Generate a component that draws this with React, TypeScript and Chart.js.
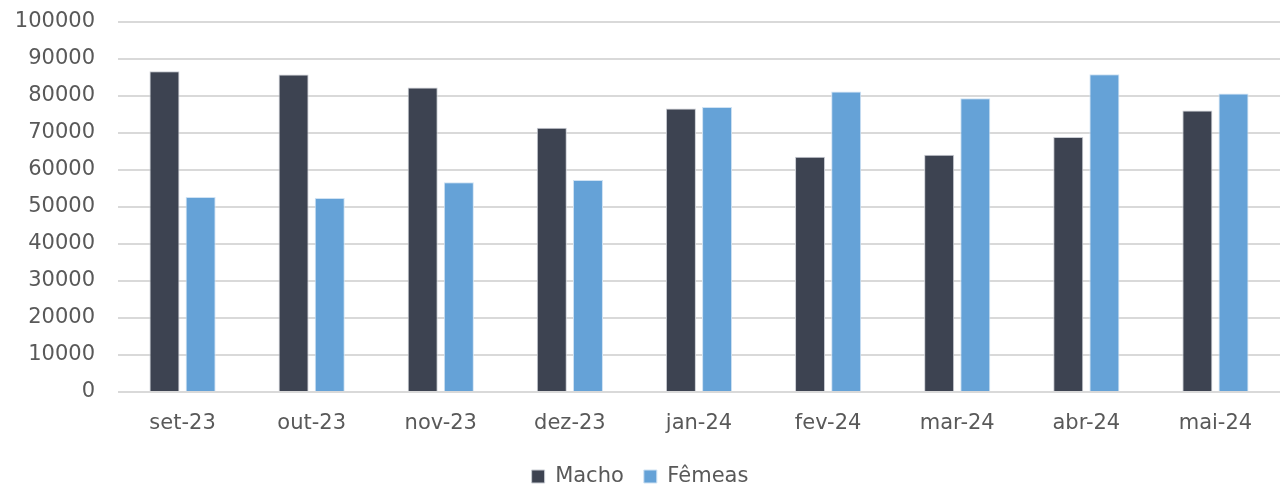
import React, { useEffect, useRef } from "react";
import { Chart, registerables } from "chart.js";

Chart.register(...registerables);

const categories = ["set-23", "out-23", "nov-23", "dez-23", "jan-24", "fev-24", "mar-24", "abr-24", "mai-24"];
const machoValues = [86700, 85800, 82300, 71400, 76600, 63600, 64100, 68900, 76100];
const femeasValues = [52700, 52400, 56700, 57300, 77000, 81200, 79400, 85900, 80700];
const seriesNames = ["Macho", "Fêmeas"];

const FONT = "'DejaVu Sans', 'Open Sans', sans-serif";
const TEXT = "#595959";
const FONT_SIZE = 21;

// Keeps the bottom legend compact so it sits close to the canvas edge.
const legendHeight = {
  id: "legendHeight",
  beforeLayout(chart: any) {
    const legend = chart.legend;
    if (legend && !legend._heightPatched) {
      const fit = legend.fit;
      legend.fit = function () {
        fit.call(this);
        this.height = 42;
      };
      legend._heightPatched = true;
    }
  },
};

export default function App() {
  const canvasRef = useRef<HTMLCanvasElement | null>(null);

  useEffect(() => {
    if (!canvasRef.current) return;
    const chart = new Chart(canvasRef.current, {
      type: "bar",
      data: {
        labels: categories,
        datasets: [
          {
            label: seriesNames[0],
            data: machoValues,
            backgroundColor: "#3d4351",
            borderColor: "#c9ccd3",
            borderWidth: 1,
          },
          {
            label: seriesNames[1],
            data: femeasValues,
            backgroundColor: "#65a2d7",
            borderColor: "#cfe2f3",
            borderWidth: 1,
          },
        ],
      },
      plugins: [legendHeight],
      options: {
        responsive: false,
        animation: false,
        layout: { padding: { top: 22, right: 4, bottom: 0, left: 0 } },
        datasets: {
          bar: { categoryPercentage: 0.56, barPercentage: 0.83 },
        },
        plugins: {
          tooltip: { enabled: false },
          legend: {
            position: "bottom",
            labels: {
              color: TEXT,
              font: { family: FONT, size: FONT_SIZE, lineHeight: 1 },
              boxWidth: 13,
              boxHeight: 13,
              padding: 20,
            },
          },
        },
        scales: {
          x: {
            afterFit: (scale: any) => {
              scale.height = 54;
            },
            grid: { display: false },
            border: { display: false },
            ticks: { color: TEXT, font: { family: FONT, size: FONT_SIZE }, padding: 11 },
          },
          y: {
            min: 0,
            max: 100000,
            afterFit: (scale: any) => {
              scale.width = 118;
            },
            grid: {
              color: "#d9d9d9",
              lineWidth: 2,
              drawTicks: true,
              tickLength: 22,
              tickColor: "rgba(0,0,0,0)",
            },
            border: { display: false },
            ticks: {
              stepSize: 10000,
              color: TEXT,
              font: { family: FONT, size: FONT_SIZE },
              padding: 1,
              callback: (v: any) => String(v),
            },
          },
        },
      },
    });
    return () => chart.destroy();
  }, []);

  return (
    <div style={{ position: "fixed", left: 0, top: 0, width: 1284, height: 488, background: "#fff" }}>
      <canvas ref={canvasRef} width={1284} height={488} style={{ display: "block" }} />
    </div>
  );
}
